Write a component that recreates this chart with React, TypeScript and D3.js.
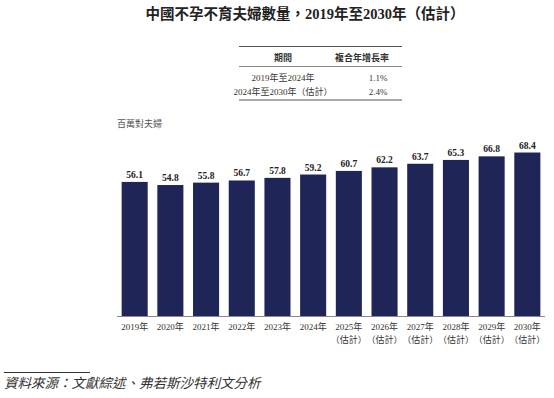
import React from 'react';
import * as d3 from 'd3';

// constants
const width = 554;
const height = 398;
const margin = { top: 0, right: 9, bottom: 82, left: 117 };
const serif = '"Liberation Serif", "Noto Sans CJK TC", serif';

// data
const years = ['2019年', '2020年', '2021年', '2022年', '2023年', '2024年', '2025年', '2026年', '2027年', '2028年', '2029年', '2030年'];
const estimated = [false, false, false, false, false, false, true, true, true, true, true, true];
const couples = [56.1, 54.8, 55.8, 56.7, 57.8, 59.2, 60.7, 62.2, 63.7, 65.3, 66.8, 68.4];
const periods = ['2019年至2024年', '2024年至2030年（估計）'];
const cagr = ['1.1%', '2.4%'];

const baseY = 316;
const barColor = '#1f2557';

const App = () => {
  const xScale = d3.scaleBand<number>()
    .domain(years.map((d, i) => i))
    .range([margin.left, width - margin.right])
    .paddingInner(0.27)
    .paddingOuter(0.13);
  const yScale = d3.scaleLinear()
    .domain([0, 100])
    .range([baseY, baseY - 239]);

  return (
    <svg width={width} height={height} style={{ position: 'absolute', left: 0, top: 0 }}>
      <text x={305} y={19} textAnchor="middle" fontFamily={serif} fontWeight="bold" fontSize={14.5} fill="#222">
        中國不孕不育夫婦數量，2019年至2030年（估計）
      </text>

      {/* CAGR table */}
      <g fontFamily={serif} fill="#333">
        <line x1={239} x2={402} y1={46.5} y2={46.5} stroke="#555" strokeWidth={1.2} />
        <text x={283} y={61} textAnchor="middle" fontSize={9} fontWeight="bold">期間</text>
        <text x={362} y={61} textAnchor="middle" fontSize={9} fontWeight="bold">複合年增長率</text>
        <line x1={239} x2={402} y1={66.5} y2={66.5} stroke="#888" strokeWidth={1} />
        {periods.map((p, i) => (
          <g key={p}>
            <text x={283} y={81 + i * 14} textAnchor="middle" fontSize={9}>{p}</text>
            <text x={378} y={81 + i * 14} textAnchor="middle" fontSize={9}>{cagr[i]}</text>
          </g>
        ))}
        <line x1={239} x2={402} y1={100} y2={100} stroke="#555" strokeWidth={1.2} />
      </g>

      <text x={117} y={127} fontFamily={serif} fontSize={9} fill="#555">百萬對夫婦</text>

      {couples.map((d, i) => (
        <g key={i}>
          <rect x={xScale(i)} y={yScale(d)} width={xScale.bandwidth()} height={baseY - yScale(d)} fill={barColor} />
          <text x={xScale(i)! + xScale.bandwidth() / 2} y={yScale(d) - 4} textAnchor="middle"
            fontFamily={serif} fontWeight="bold" fontSize={9.5} fill="#222">{d.toFixed(1)}</text>
          <text x={xScale(i)! + xScale.bandwidth() / 2} y={baseY + 14} textAnchor="middle"
            fontFamily={serif} fontSize={9} fill="#333">{years[i]}</text>
          {estimated[i] && (
            <text x={xScale(i)! + xScale.bandwidth() / 2} y={baseY + 27} textAnchor="middle"
              fontFamily={serif} fontSize={9} fill="#333">（估計）</text>
          )}
        </g>
      ))}
      <line x1={margin.left} x2={width - margin.right} y1={baseY + 0.5} y2={baseY + 0.5} stroke="#888" strokeWidth={1} />

      <line x1={4} x2={90} y1={372.5} y2={372.5} stroke="#333" strokeWidth={1} />
      <text x={4} y={388} fontFamily={serif} fontStyle="italic" fontSize={13.5} fill="#333">
        資料來源：文獻綜述、弗若斯沙特利文分析
      </text>
    </svg>
  );
};

export default App;
